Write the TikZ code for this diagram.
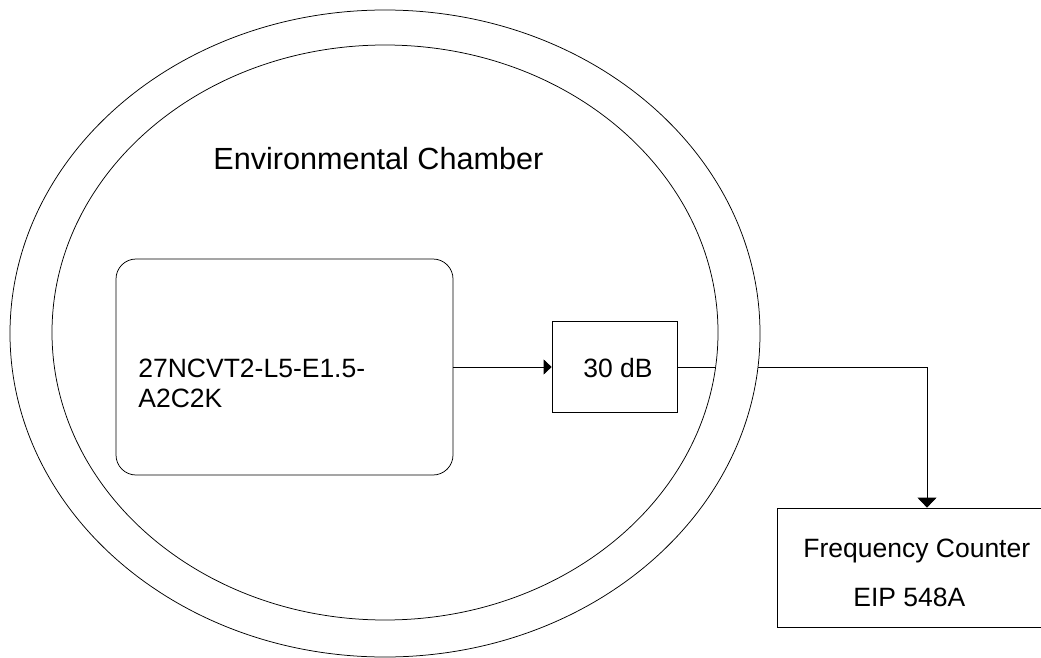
\documentclass[tikz,border=0pt]{standalone}
\usepackage{fontspec}
\setmainfont{Liberation Sans}
\usetikzlibrary{arrows.meta}
\begin{document}
\begin{tikzpicture}[x=1pt,y=-1pt,line width=0.75pt,
  txt/.style={inner sep=0pt,anchor=base west,font=\fontsize{26.5}{30}\selectfont},
  boxshape/.style={draw,rectangle,inner sep=0pt},
  ring/.style={fill=white,even odd rule}]
\clip (0,0) rectangle (1041,658);
% boxes
\node[boxshape,rounded corners=20pt,minimum width=337pt,minimum height=216pt] (chip) at (284.5,367) {};
\node[boxshape,minimum width=125pt,minimum height=91pt] (att) at (614.5,367) {};
\node[boxshape,minimum width=279pt,minimum height=119pt] (fc) at (916.5,567.5) {};
% texts
\node[txt,font=\fontsize{30.6}{35}\selectfont] (env) at (213,169) {Environmental Chamber};
\node[txt] (chipA) at (138,377) {27NCVT2-L5-E1.5-};
\node[txt] (chipB) at (138,407) {A2C2K};
\node[txt] (attl) at (583,377) {30 dB};
\node[txt] (fcA) at (803,557) {Frequency Counter};
\node[txt] (fcB) at (853,606) {EIP 548A};
% connectors
\draw[-{Triangle[length=8pt,width=15pt]}] (chip.east) -- (att.west);
\coordinate (fcin) at ([xshift=10.5pt]fc.north);
\draw[-{Triangle[length=10pt,width=19pt]}] (att.east) -| (fcin);
% chamber walls (ring covers the connector between them)
\fill[ring] (385,333.5) ellipse [x radius=375, y radius=323.5]
            (385,332.5) ellipse [x radius=333, y radius=287.5];
\draw (385,333.5) ellipse [x radius=375, y radius=323.5];
\draw (385,332.5) ellipse [x radius=333, y radius=287.5];
\end{tikzpicture}
\end{document}
